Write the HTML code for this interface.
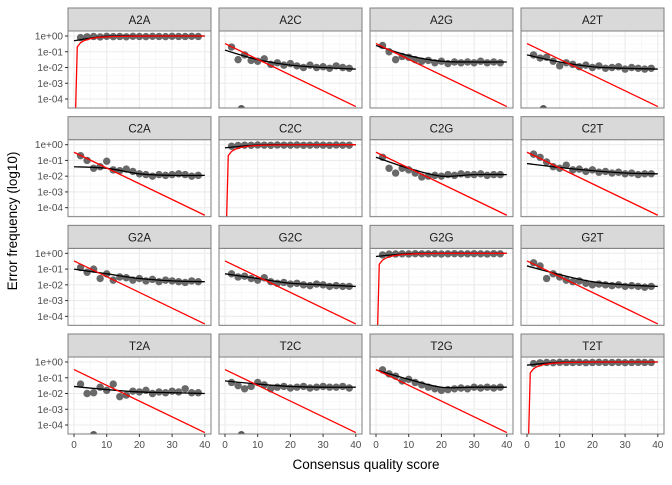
<!DOCTYPE html>
<html><head><meta charset="utf-8"><style>
body{margin:0;background:#fff}
svg text{font-family:"Liberation Sans",sans-serif}
</style></head><body>
<svg id="chart" width="672" height="480" xmlns="http://www.w3.org/2000/svg"></svg>
<script>
const panelNames=["A2A","A2C","A2G","A2T","C2A","C2C","C2G","C2T","G2A","G2C","G2G","G2T","T2A","T2C","T2G","T2T"];
const pointQ=[2,4,6,8,10,12,14,16,18,20,22,24,26,28,30,32,34,36,38];
const obsA2A=[-0.1,-0.05,-0.03,-0.06,-0.02,-0.04,-0.03,-0.05,-0.02,-0.03,-0.04,-0.02,-0.03,-0.04,-0.02,-0.03,-0.03,-0.02,-0.03];
const obsA2C=[-0.7,-1.5,-1.2,-1.55,-1.6,-1.45,-1.8,-1.7,-1.85,-1.75,-1.9,-2.0,-1.85,-2.0,-1.95,-2.05,-1.9,-2.0,-2.05];
const obsA2G=[-0.6,-1.0,-1.5,-1.3,-1.35,-1.5,-1.6,-1.55,-1.7,-1.6,-1.75,-1.65,-1.7,-1.65,-1.7,-1.6,-1.7,-1.65,-1.7];
const obsA2T=[-1.2,-1.4,-1.35,-1.6,-1.9,-1.7,-1.8,-1.95,-1.85,-2.0,-1.9,-2.05,-2.0,-1.95,-2.1,-2.0,-2.05,-2.1,-2.05];
const obsC2A=[-0.7,-1.0,-1.5,-1.4,-1.05,-1.6,-1.65,-1.55,-1.7,-1.85,-1.9,-2.0,-1.9,-1.95,-1.9,-1.85,-1.9,-2.0,-1.95];
const obsC2C=[-0.1,-0.05,-0.03,-0.04,-0.02,-0.03,-0.04,-0.02,-0.03,-0.03,-0.02,-0.04,-0.03,-0.02,-0.03,-0.04,-0.02,-0.03,-0.03];
const obsC2G=[-0.8,-1.5,-1.8,-1.5,-1.6,-1.8,-2.05,-2.0,-1.95,-2.0,-1.9,-1.95,-1.85,-1.9,-1.9,-1.85,-1.95,-1.9,-1.9];
const obsC2T=[-0.6,-0.8,-1.1,-1.4,-1.5,-1.3,-1.6,-1.55,-1.7,-1.6,-1.75,-1.7,-1.8,-1.75,-1.85,-1.8,-1.9,-1.85,-1.85];
const obsG2A=[-0.9,-1.2,-1.0,-1.6,-1.3,-1.7,-1.5,-1.55,-1.7,-1.6,-1.75,-1.65,-1.8,-1.7,-1.75,-1.8,-1.85,-1.75,-1.8];
const obsG2C=[-1.3,-1.5,-1.45,-1.6,-1.7,-1.55,-1.8,-1.9,-1.85,-1.95,-1.9,-2.0,-2.05,-1.95,-2.0,-2.1,-2.05,-2.1,-2.1];
const obsG2G=[-0.1,-0.05,-0.04,-0.03,-0.04,-0.02,-0.03,-0.03,-0.02,-0.04,-0.03,-0.02,-0.03,-0.03,-0.02,-0.03,-0.04,-0.02,-0.03];
const obsG2T=[-0.6,-0.8,-1.6,-1.3,-1.5,-1.7,-1.8,-1.75,-1.9,-2.0,-1.95,-2.0,-2.05,-2.0,-2.1,-2.05,-2.1,-2.15,-2.1];
const obsT2A=[-1.4,-2.0,-1.95,-1.6,-1.8,-1.4,-2.2,-2.1,-1.85,-1.9,-1.8,-2.0,-1.9,-1.95,-1.85,-1.9,-1.7,-1.95,-1.95];
const obsT2C=[-1.3,-1.5,-1.7,-1.55,-1.3,-1.45,-1.7,-1.6,-1.55,-1.65,-1.6,-1.55,-1.65,-1.6,-1.55,-1.6,-1.6,-1.55,-1.65];
const obsT2G=[-0.5,-0.75,-0.9,-1.2,-1.1,-1.3,-1.45,-1.6,-1.7,-1.8,-1.75,-1.7,-1.65,-1.7,-1.6,-1.65,-1.6,-1.65,-1.6];
const obsT2T=[-0.1,-0.05,-0.03,-0.04,-0.02,-0.03,-0.03,-0.02,-0.04,-0.03,-0.02,-0.03,-0.03,-0.02,-0.04,-0.03,-0.02,-0.03,-0.03];
const outlierPanels=["A2C","A2T","T2A","T2C"];
const outlierQ=[5,5,6,5];
const outlierVals=[-4.6,-4.6,-4.6,-4.6];
const fitQ=[0,10,20,30,40];
const fitA2A=[-0.3,-0.02,0,0,0];
const fitA2C=[-0.9,-1.5,-1.85,-2.0,-2.1];
const fitA2G=[-0.6,-1.25,-1.6,-1.65,-1.65];
const fitA2T=[-1.2,-1.65,-1.95,-2.05,-2.1];
const fitC2A=[-1.4,-1.5,-1.85,-1.95,-1.95];
const fitC2C=[-0.2,-0.02,0,0,0];
const fitC2G=[-0.8,-1.5,-2.0,-1.9,-1.9];
const fitC2T=[-1.2,-1.45,-1.65,-1.8,-1.85];
const fitG2A=[-1.0,-1.3,-1.6,-1.75,-1.8];
const fitG2C=[-1.3,-1.6,-1.9,-2.0,-2.1];
const fitG2G=[-0.2,-0.02,0,0,0];
const fitG2T=[-0.8,-1.35,-1.8,-2.0,-2.1];
const fitT2A=[-1.55,-1.75,-1.9,-1.95,-2.0];
const fitT2C=[-1.2,-1.4,-1.55,-1.6,-1.6];
const fitT2G=[-0.5,-1.1,-1.6,-1.6,-1.6];
const fitT2T=[-0.2,-0.02,0,0,0];
const nomOffQ=[0,40];
const nomOffVals=[-0.48,-4.48];
const nomDiagQ=[0.45,1,2,3,5,8,12,20,40];
const nomDiagVals=[-5,-0.69,-0.43,-0.3,-0.165,-0.075,-0.03,-0.004,0];
const xTicks=[0,10,20,30,40];
const yTicks=[0,-1,-2,-3,-4];
const yTickLabels=["1e+00","1e-01","1e-02","1e-03","1e-04"];

const obs={A2A:obsA2A,A2C:obsA2C,A2G:obsA2G,A2T:obsA2T,C2A:obsC2A,C2C:obsC2C,C2G:obsC2G,C2T:obsC2T,G2A:obsG2A,G2C:obsG2C,G2G:obsG2G,G2T:obsG2T,T2A:obsT2A,T2C:obsT2C,T2G:obsT2G,T2T:obsT2T};
const fit={A2A:fitA2A,A2C:fitA2C,A2G:fitA2G,A2T:fitA2T,C2A:fitC2A,C2C:fitC2C,C2G:fitC2G,C2T:fitC2T,G2A:fitG2A,G2C:fitG2C,G2G:fitG2G,G2T:fitG2T,T2A:fitT2A,T2C:fitT2C,T2G:fitT2G,T2T:fitT2T};

const NS="http://www.w3.org/2000/svg";
const svg=document.getElementById("chart");
function mk(tag,attrs,parent){const e=document.createElementNS(NS,tag);for(const k in attrs)e.setAttribute(k,attrs[k]);(parent||svg).appendChild(e);return e;}
function smooth(pts){let d="M"+pts[0][0]+","+pts[0][1];for(let i=0;i<pts.length-1;i++){const p0=pts[Math.max(0,i-1)],p1=pts[i],p2=pts[i+1],p3=pts[Math.min(pts.length-1,i+2)];const c1x=p1[0]+(p2[0]-p0[0])/6,c1y=p1[1]+(p2[1]-p0[1])/6,c2x=p2[0]-(p3[0]-p1[0])/6,c2y=p2[1]-(p3[1]-p1[1])/6;d+=" C"+c1x+","+c1y+" "+c2x+","+c2y+" "+p2[0]+","+p2[1];}return d;}
const colL=[68,219,370,521], PW=143, stripH=23, PH=77;
function rowTop(r){return 8+r*108.67;}

panelNames.forEach((name,i)=>{
  const r=Math.floor(i/4), c=i%4;
  const L=colL[c], sT=rowTop(r), T=sT+stripH, B=T+PH;
  const xs=q=>L+6+q*3.27;
  const ys=v=>T+5+(-v)*15.75;
  const g=mk("g",{});
  
  
  const clipId="clip"+i;
  const cp=mk("clipPath",{id:clipId},g); mk("rect",{x:L,y:T,width:PW,height:PH},cp);
  [5,15,25,35].forEach(q=>mk("line",{x1:xs(q),x2:xs(q),y1:T,y2:B,stroke:"#f4f4f4","stroke-width":0.6},g));
  [-0.5,-1.5,-2.5,-3.5,-4.5].forEach(v=>mk("line",{x1:L,x2:L+PW,y1:ys(v),y2:ys(v),stroke:"#f4f4f4","stroke-width":0.6},g));
  xTicks.forEach(q=>mk("line",{x1:xs(q),x2:xs(q),y1:T,y2:B,stroke:"#ebebeb","stroke-width":1.1},g));
  yTicks.forEach(v=>mk("line",{x1:L,x2:L+PW,y1:ys(v),y2:ys(v),stroke:"#ebebeb","stroke-width":1.1},g));
  const dg=mk("g",{"clip-path":"url(#"+clipId+")"},g);
  obs[name].forEach((v,j)=>{
    const p=mk("circle",{cx:xs(pointQ[j]),cy:ys(v),r:3.7,fill:"#595959","fill-opacity":0.9},dg);
    
    
  });
  outlierPanels.forEach((pn,k)=>{ if(pn===name){
    const p=mk("circle",{cx:xs(outlierQ[k]),cy:ys(outlierVals[k]),r:3.5,fill:"#595959"},dg);
    
    
  }});
  const fl=mk("path",{d:smooth(fitQ.map((q,j)=>[xs(q),ys(fit[name][j])])),fill:"none",stroke:"#000","stroke-width":1.3},dg);
  
  
  const diag=name[0]===name[2];
  const nq=diag?nomDiagQ:nomOffQ, nv=diag?nomDiagVals:nomOffVals;
  const nl=mk("polyline",{points:nq.map((q,j)=>xs(q)+","+ys(nv[j])).join(" "),fill:"none",stroke:"#ff0000","stroke-width":1.3},dg);
  
  
  mk("rect",{x:L,y:T,width:PW,height:PH,fill:"none",stroke:"#7f7f7f","stroke-width":1},g);
  const st=mk("rect",{x:L,y:sT,width:PW,height:stripH,fill:"#d9d9d9",stroke:"#7f7f7f","stroke-width":1},g);
  
  
  const tt=mk("text",{x:L+PW/2,y:sT+16,"text-anchor":"middle","font-size":11.5,fill:"#1a1a1a"},g);
  tt.textContent=name;
  
  
  if(c===0){
    yTicks.forEach((v,j)=>{
      mk("line",{x1:L-3,x2:L,y1:ys(v),y2:ys(v),stroke:"#333","stroke-width":1},g);
      const t=mk("text",{x:L-5,y:ys(v)+3.5,"text-anchor":"end","font-size":10,fill:"#4d4d4d"},g);
      t.textContent=yTickLabels[j];
      
      
    });
  }
  if(r===3){
    xTicks.forEach(q=>{
      mk("line",{x1:xs(q),x2:xs(q),y1:B,y2:B+3,stroke:"#333","stroke-width":1},g);
      const t=mk("text",{x:xs(q),y:B+14,"text-anchor":"middle","font-size":10,fill:"#4d4d4d"},g);
      t.textContent=q;
      
      
    });
  }
});
const xt=mk("text",{x:366,y:469,"text-anchor":"middle","font-size":13.5,fill:"#000"});
xt.textContent="Consensus quality score";


const yt=mk("text",{x:0,y:0,"text-anchor":"middle","font-size":13.5,fill:"#000",transform:"translate(17,221) rotate(-90)"});
yt.textContent="Error frequency (log10)";


</script>
</body></html>
